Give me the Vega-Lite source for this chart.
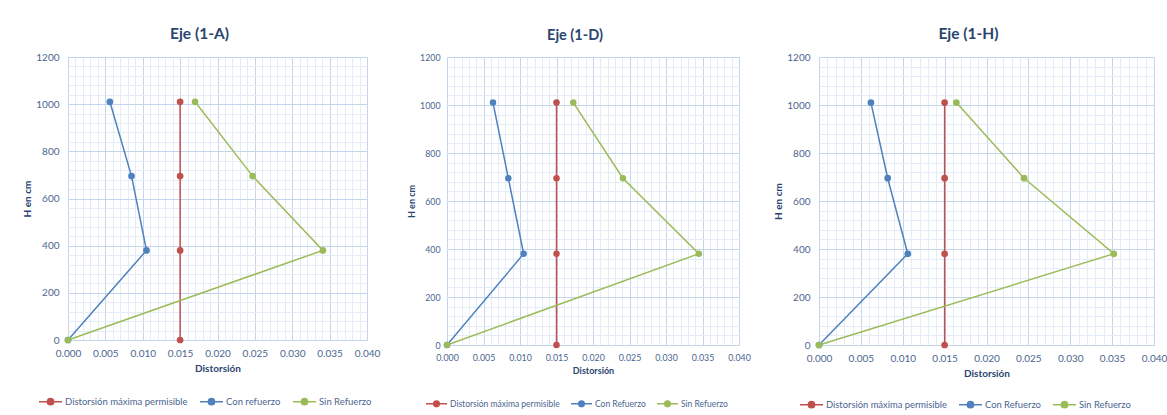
{
  "$schema": "https://vega.github.io/schema/vega-lite/v6.json",
  "padding": {"left": 22, "top": 26, "right": 0, "bottom": 0},
  "background": "white",
  "bounds": "flush",
  "spacing": 80,
  "config": {
    "font": "Lato",
    "view": {"stroke": "#C3D4EC", "strokeWidth": 1},
    "title": {"font": "Lato", "fontSize": 15.5, "fontWeight": "bold", "color": "#2B4570", "anchor": "middle", "frame": "group", "offset": 10, "dx": -18},
    "axis": {"labelFont": "Lato", "labelFontSize": 10, "labelColor": "#4B6590", "titleFont": "Lato", "titleFontSize": 10, "titleFontWeight": "bold", "titleColor": "#2B4570", "domain": false, "ticks": false, "labelFlush": false, "labelOverlap": false},
    "legend": {"labelFont": "Lato", "labelFontSize": 9.5, "labelColor": "#4B6590", "padding": 0, "columnPadding": 9, "labelOffset": 2}
  },
  "datasets": {
    "a": [
      {"serie": "Distorsión máxima permisible", "d": 0.015, "h": 0},
      {"serie": "Distorsión máxima permisible", "d": 0.015, "h": 380},
      {"serie": "Distorsión máxima permisible", "d": 0.015, "h": 695},
      {"serie": "Distorsión máxima permisible", "d": 0.015, "h": 1010},
      {"serie": "Con refuerzo", "d": 0.0, "h": 0},
      {"serie": "Con refuerzo", "d": 0.0105, "h": 380},
      {"serie": "Con refuerzo", "d": 0.0085, "h": 695},
      {"serie": "Con refuerzo", "d": 0.0056, "h": 1010},
      {"serie": "Sin Refuerzo", "d": 0.0, "h": 0},
      {"serie": "Sin Refuerzo", "d": 0.0341, "h": 380},
      {"serie": "Sin Refuerzo", "d": 0.0247, "h": 695},
      {"serie": "Sin Refuerzo", "d": 0.0170, "h": 1010}
    ],
    "d": [
      {"serie": "Distorsión máxima permisible", "d": 0.015, "h": 0},
      {"serie": "Distorsión máxima permisible", "d": 0.015, "h": 380},
      {"serie": "Distorsión máxima permisible", "d": 0.015, "h": 695},
      {"serie": "Distorsión máxima permisible", "d": 0.015, "h": 1010},
      {"serie": "Con Refuerzo", "d": 0.0, "h": 0},
      {"serie": "Con Refuerzo", "d": 0.0105, "h": 380},
      {"serie": "Con Refuerzo", "d": 0.0084, "h": 695},
      {"serie": "Con Refuerzo", "d": 0.0063, "h": 1010},
      {"serie": "Sin Refuerzo", "d": 0.0, "h": 0},
      {"serie": "Sin Refuerzo", "d": 0.0345, "h": 380},
      {"serie": "Sin Refuerzo", "d": 0.0241, "h": 695},
      {"serie": "Sin Refuerzo", "d": 0.0173, "h": 1010}
    ],
    "h": [
      {"serie": "Distorsión máxima permisible", "d": 0.015, "h": 0},
      {"serie": "Distorsión máxima permisible", "d": 0.015, "h": 380},
      {"serie": "Distorsión máxima permisible", "d": 0.015, "h": 695},
      {"serie": "Distorsión máxima permisible", "d": 0.015, "h": 1010},
      {"serie": "Con Refuerzo", "d": 0.0, "h": 0},
      {"serie": "Con Refuerzo", "d": 0.0106, "h": 380},
      {"serie": "Con Refuerzo", "d": 0.0082, "h": 695},
      {"serie": "Con Refuerzo", "d": 0.0062, "h": 1010},
      {"serie": "Sin Refuerzo", "d": 0.0, "h": 0},
      {"serie": "Sin Refuerzo", "d": 0.0352, "h": 380},
      {"serie": "Sin Refuerzo", "d": 0.0245, "h": 695},
      {"serie": "Sin Refuerzo", "d": 0.0164, "h": 1010}
    ]
  },
  "resolve": {"scale": {"color": "independent"}, "legend": {"color": "independent"}},
  "hconcat": [
    {
      "title": "Eje (1-A)",
      "width": 299, "height": 283,
      "data": {"name": "a"},
      "resolve": {"axis": {"x": "independent", "y": "independent"}},
      "layer": [
        {
          "mark": {"type": "line", "strokeWidth": 1.5},
          "encoding": {
            "x": {"field": "d", "type": "quantitative", "scale": {"domain": [0, 0.04], "nice": false, "zero": true},
              "axis": {"orient": "top", "values": [0,0.001,0.002,0.003,0.004,0.005,0.006,0.007,0.008,0.009,0.01,0.011,0.012,0.013,0.014,0.015,0.016,0.017,0.018,0.019,0.02,0.021,0.022,0.023,0.024,0.025,0.026,0.027,0.028,0.029,0.03,0.031,0.032,0.033,0.034,0.035,0.036,0.037,0.038,0.039,0.04], "grid": true, "gridColor": "#E4ECF7", "labels": false, "ticks": false, "domain": false, "title": null}},
            "y": {"field": "h", "type": "quantitative", "scale": {"domain": [0, 1200], "nice": false},
              "axis": {"orient": "right", "values": [0,40,80,120,160,200,240,280,320,360,400,440,480,520,560,600,640,680,720,760,800,840,880,920,960,1000,1040,1080,1120,1160,1200], "grid": true, "gridColor": "#E4ECF7", "labels": false, "ticks": false, "domain": false, "title": null}},
            "color": {"field": "serie", "type": "nominal", "scale": {"domain": ["Distorsión máxima permisible", "Con refuerzo", "Sin Refuerzo"], "range": ["#C0504D", "#4F81BD", "#9BBB59"]},
              "legend": {"title": null, "orient": "none", "legendX": -30, "legendY": 332, "direction": "horizontal", "labelFontSize": 9.5, "symbolType": "M-1,0L1,0M-0.27,0A0.27,0.27,0,1,1,0.27,0A0.27,0.27,0,1,1,-0.27,0", "symbolSize": 529, "symbolStrokeWidth": 1.5}},
            "order": {"field": "h", "type": "quantitative"}
          }
        },
        {
          "mark": {"type": "circle", "size": 45, "opacity": 1},
          "encoding": {
            "x": {"field": "d", "type": "quantitative", "title": "Distorsión", "scale": {"domain": [0, 0.04], "nice": false},
              "axis": {"orient": "bottom", "values": [0,0.005,0.01,0.015,0.02,0.025,0.03,0.035,0.04], "format": ".3f", "grid": true, "gridColor": "#C3D4EC", "labelPadding": 8, "titlePadding": 5}},
            "y": {"field": "h", "type": "quantitative", "title": "H en cm", "scale": {"domain": [0, 1200], "nice": false},
              "axis": {"orient": "left", "values": [0,200,400,600,800,1000,1200], "format": "d", "grid": true, "gridColor": "#C3D4EC", "labelPadding": 9, "titlePadding": 3}},
            "color": {"field": "serie", "type": "nominal", "scale": {"domain": ["Distorsión máxima permisible", "Con refuerzo", "Sin Refuerzo"], "range": ["#C0504D", "#4F81BD", "#9BBB59"]},
              "legend": {"title": null, "orient": "none", "legendX": -30, "legendY": 332, "direction": "horizontal", "labelFontSize": 9.5, "symbolType": "M-1,0L1,0M-0.27,0A0.27,0.27,0,1,1,0.27,0A0.27,0.27,0,1,1,-0.27,0", "symbolSize": 529, "symbolStrokeWidth": 1.5}}
          }
        }
      ]
    },
    {
      "title": {"text": "Eje (1-D)", "fontSize": 14.5},
      "width": 292, "height": 288,
      "data": {"name": "d"},
      "resolve": {"axis": {"x": "independent", "y": "independent"}},
      "layer": [
        {
          "mark": {"type": "line", "strokeWidth": 1.5},
          "encoding": {
            "x": {"field": "d", "type": "quantitative", "scale": {"domain": [0, 0.04], "nice": false, "zero": true},
              "axis": {"orient": "top", "values": [0,0.001,0.002,0.003,0.004,0.005,0.006,0.007,0.008,0.009,0.01,0.011,0.012,0.013,0.014,0.015,0.016,0.017,0.018,0.019,0.02,0.021,0.022,0.023,0.024,0.025,0.026,0.027,0.028,0.029,0.03,0.031,0.032,0.033,0.034,0.035,0.036,0.037,0.038,0.039,0.04], "grid": true, "gridColor": "#E4ECF7", "labels": false, "ticks": false, "domain": false, "title": null}},
            "y": {"field": "h", "type": "quantitative", "scale": {"domain": [0, 1200], "nice": false},
              "axis": {"orient": "right", "values": [0,40,80,120,160,200,240,280,320,360,400,440,480,520,560,600,640,680,720,760,800,840,880,920,960,1000,1040,1080,1120,1160,1200], "grid": true, "gridColor": "#E4ECF7", "labels": false, "ticks": false, "domain": false, "title": null}},
            "color": {"field": "serie", "type": "nominal", "scale": {"domain": ["Distorsión máxima permisible", "Con Refuerzo", "Sin Refuerzo"], "range": ["#C0504D", "#4F81BD", "#9BBB59"]},
              "legend": {"title": null, "orient": "none", "legendX": -22, "legendY": 335, "direction": "horizontal", "labelFontSize": 8.5, "columnPadding": 8, "symbolType": "M-1,0L1,0M-0.27,0A0.27,0.27,0,1,1,0.27,0A0.27,0.27,0,1,1,-0.27,0", "symbolSize": 441, "symbolStrokeWidth": 1.5}},
            "order": {"field": "h", "type": "quantitative"}
          }
        },
        {
          "mark": {"type": "circle", "size": 42, "opacity": 1},
          "encoding": {
            "x": {"field": "d", "type": "quantitative", "title": "Distorsión", "scale": {"domain": [0, 0.04], "nice": false},
              "axis": {"orient": "bottom", "values": [0,0.005,0.01,0.015,0.02,0.025,0.03,0.035,0.04], "format": ".3f", "grid": true, "gridColor": "#C3D4EC", "labelPadding": 8, "titlePadding": 5, "labelFontSize": 8.8, "titleFontSize": 9}},
            "y": {"field": "h", "type": "quantitative", "title": "H en cm", "scale": {"domain": [0, 1200], "nice": false},
              "axis": {"orient": "left", "values": [0,200,400,600,800,1000,1200], "format": "d", "grid": true, "gridColor": "#C3D4EC", "labelPadding": 7, "titlePadding": 3, "labelFontSize": 8.8, "titleFontSize": 9}},
            "color": {"field": "serie", "type": "nominal", "scale": {"domain": ["Distorsión máxima permisible", "Con Refuerzo", "Sin Refuerzo"], "range": ["#C0504D", "#4F81BD", "#9BBB59"]},
              "legend": {"title": null, "orient": "none", "legendX": -22, "legendY": 335, "direction": "horizontal", "labelFontSize": 8.5, "columnPadding": 8, "symbolType": "M-1,0L1,0M-0.27,0A0.27,0.27,0,1,1,0.27,0A0.27,0.27,0,1,1,-0.27,0", "symbolSize": 441, "symbolStrokeWidth": 1.5}}
          }
        }
      ]
    },
    {
      "title": "Eje (1-H)",
      "width": 335, "height": 288,
      "data": {"name": "h"},
      "resolve": {"axis": {"x": "independent", "y": "independent"}},
      "layer": [
        {
          "mark": {"type": "line", "strokeWidth": 1.5},
          "encoding": {
            "x": {"field": "d", "type": "quantitative", "scale": {"domain": [0, 0.04], "nice": false, "zero": true},
              "axis": {"orient": "top", "values": [0,0.001,0.002,0.003,0.004,0.005,0.006,0.007,0.008,0.009,0.01,0.011,0.012,0.013,0.014,0.015,0.016,0.017,0.018,0.019,0.02,0.021,0.022,0.023,0.024,0.025,0.026,0.027,0.028,0.029,0.03,0.031,0.032,0.033,0.034,0.035,0.036,0.037,0.038,0.039,0.04], "grid": true, "gridColor": "#E4ECF7", "labels": false, "ticks": false, "domain": false, "title": null}},
            "y": {"field": "h", "type": "quantitative", "scale": {"domain": [0, 1200], "nice": false},
              "axis": {"orient": "right", "values": [0,40,80,120,160,200,240,280,320,360,400,440,480,520,560,600,640,680,720,760,800,840,880,920,960,1000,1040,1080,1120,1160,1200], "grid": true, "gridColor": "#E4ECF7", "labels": false, "ticks": false, "domain": false, "title": null}},
            "color": {"field": "serie", "type": "nominal", "scale": {"domain": ["Distorsión máxima permisible", "Con Refuerzo", "Sin Refuerzo"], "range": ["#C0504D", "#4F81BD", "#9BBB59"]},
              "legend": {"title": null, "orient": "none", "legendX": -20, "legendY": 335, "direction": "horizontal", "labelFontSize": 9.4, "symbolType": "M-1,0L1,0M-0.27,0A0.27,0.27,0,1,1,0.27,0A0.27,0.27,0,1,1,-0.27,0", "symbolSize": 529, "symbolStrokeWidth": 1.5}},
            "order": {"field": "h", "type": "quantitative"}
          }
        },
        {
          "mark": {"type": "circle", "size": 45, "opacity": 1},
          "encoding": {
            "x": {"field": "d", "type": "quantitative", "title": "Distorsión", "scale": {"domain": [0, 0.04], "nice": false},
              "axis": {"orient": "bottom", "values": [0,0.005,0.01,0.015,0.02,0.025,0.03,0.035,0.04], "format": ".3f", "grid": true, "gridColor": "#C3D4EC", "labelPadding": 8, "titlePadding": 5}},
            "y": {"field": "h", "type": "quantitative", "title": "H en cm", "scale": {"domain": [0, 1200], "nice": false},
              "axis": {"orient": "left", "values": [0,200,400,600,800,1000,1200], "format": "d", "grid": true, "gridColor": "#C3D4EC", "labelPadding": 9, "titlePadding": 3}},
            "color": {"field": "serie", "type": "nominal", "scale": {"domain": ["Distorsión máxima permisible", "Con Refuerzo", "Sin Refuerzo"], "range": ["#C0504D", "#4F81BD", "#9BBB59"]},
              "legend": {"title": null, "orient": "none", "legendX": -20, "legendY": 335, "direction": "horizontal", "labelFontSize": 9.4, "symbolType": "M-1,0L1,0M-0.27,0A0.27,0.27,0,1,1,0.27,0A0.27,0.27,0,1,1,-0.27,0", "symbolSize": 529, "symbolStrokeWidth": 1.5}}
          }
        }
      ]
    }
  ]
}
